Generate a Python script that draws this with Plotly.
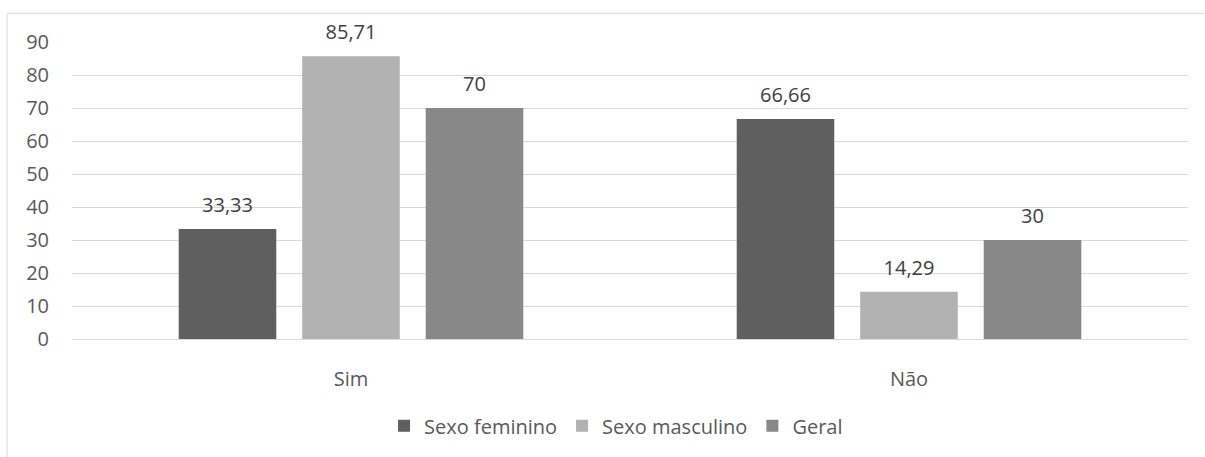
import plotly.graph_objects as go

categories = ["Sim", "Não"]
series_names = ["Sexo feminino", "Sexo masculino", "Geral"]
feminino = [33.33, 66.66]
masculino = [85.71, 14.29]
geral = [70, 30]
colors = ["#5f5f5f", "#b2b2b2", "#888888"]
y_ticks = [0, 10, 20, 30, 40, 50, 60, 70, 80, 90]

FONT = "Open Sans"
FS = 20

def fmt(v):
    s = ("%.2f" % v).rstrip("0").rstrip(".")
    return s.replace(".", ",")

fig = go.Figure()
for i, (name, vals, col) in enumerate(zip(series_names, [feminino, masculino, geral], colors)):
    fig.add_trace(go.Bar(
        x=categories, y=vals, name=name, marker_color=col,
        marker_line_width=0, offsetgroup=str(i),
    ))
for i, (name, vals) in enumerate(zip(series_names, [feminino, masculino, geral])):
    fig.add_trace(go.Scatter(
        x=categories, y=vals, mode="markers+text", showlegend=False,
        marker=dict(size=18, opacity=0), offsetgroup=str(i),
        text=[fmt(v) for v in vals], textposition="top center",
        textfont=dict(size=FS, color="#404040", family=FONT), cliponaxis=False,
        hoverinfo="skip",
    ))

fig.update_layout(
    width=1205, height=457,
    margin=dict(l=72, r=17, t=42, b=114),
    plot_bgcolor="white", paper_bgcolor="white",
    barmode="group", bargap=0.336, bargroupgap=0.21,
    scattermode="group", scattergap=0.336,
    font=dict(family=FONT, size=FS, color="#595959"),
    showlegend=True,
    legend=dict(orientation="h", x=0.4875, xanchor="center", y=-0.292, yanchor="middle",
                font=dict(size=FS, color="#595959"), itemwidth=30, traceorder="normal"),
    xaxis=dict(showgrid=False, showline=True, linecolor="#d9d9d9", linewidth=1,
               ticks="", ticklabelstandoff=22, tickfont=dict(size=FS, color="#595959")),
    yaxis=dict(range=[0, 90], tickvals=y_ticks, showgrid=True, gridcolor="#d9d9d9",
               gridwidth=1, zeroline=False, showline=False, ticks="",
               ticklabelstandoff=22, tickfont=dict(size=FS, color="#595959")),
    shapes=[dict(type="rect", xref="paper", yref="paper",
                 x0=-0.0582, x1=1.2, y0=-0.6, y1=1.0963,
                 line=dict(color="#d9d9d9", width=1), fillcolor="rgba(0,0,0,0)", layer="below")],
)

fig.write_html("out.html")
